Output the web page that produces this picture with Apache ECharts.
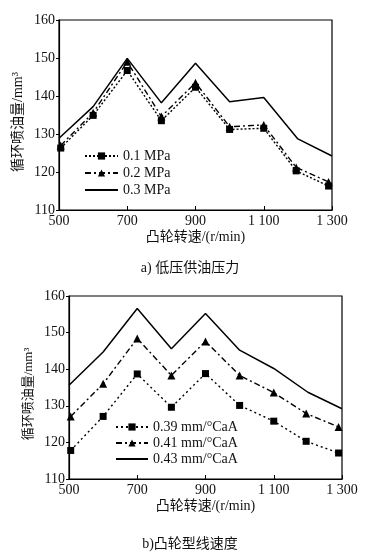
<!DOCTYPE html>
<html>
<head>
<meta charset="utf-8">
<style>
  html, body { margin: 0; padding: 0; background: #fff; }
  #chart { width: 370px; height: 553px; }
</style>
<script src="https://cdn.jsdelivr.net/npm/echarts@6/dist/echarts.min.js"></script>
</head>
<body>
<div id="chart"></div>
<script>
// ---------- data ----------
const speedLine   = [500, 600, 700, 800, 900, 1000, 1100, 1200, 1300];
const speedMarked = [505, 600, 700, 800, 900, 1000, 1100, 1195, 1290];

// a) 低压供油压力
const namesA = ['0.1 MPa', '0.2 MPa', '0.3 MPa'];
const p01 = [126.3, 134.9, 146.7, 133.5, 142.3, 131.2, 131.5, 120.3, 116.3];
const p02 = [127.0, 135.6, 149.0, 134.6, 143.5, 131.9, 132.4, 121.2, 117.4];
const p03 = [128.9, 137.2, 149.9, 138.2, 148.6, 138.5, 139.6, 128.7, 124.2];

// b) 凸轮型线速度
const namesB = ['0.39 mm/°CaA', '0.41 mm/°CaA', '0.43 mm/°CaA'];
const v039 = [117.8, 127.1, 138.7, 129.6, 138.8, 130.1, 125.8, 120.3, 117.1];
const v041 = [127.1, 136.0, 148.4, 138.3, 147.6, 138.3, 133.6, 127.9, 124.2];
const v043 = [135.6, 144.7, 156.6, 145.6, 155.2, 145.2, 140.2, 133.7, 129.2];

const yTicks = { min: 110, max: 160, interval: 10 };
const xTicks = { min: 500, max: 1300, interval: 200 };
const xTickLabels = { 500: '500', 700: '700', 900: '900', 1100: '1 100', 1300: '1 300' };

const yName = '循环喷油量/mm³';
const xName = '凸轮转速/(r/min)';
const captionA = 'a) 低压供油压力';
const captionB = 'b)凸轮型线速度';

// ---------- chart ----------
const SERIF = "'Liberation Serif', 'Times New Roman', 'Noto Sans CJK SC', serif";
const pairs = (xs, ys) => ys.map((v, i) => [xs[i], v]);

function xAxis(gridIndex) {
  return {
    type: 'value', gridIndex,
    min: xTicks.min, max: xTicks.max, interval: xTicks.interval,
    name: xName, nameLocation: 'middle', nameGap: 20, nameMoveOverlap: false,
    nameTextStyle: { fontFamily: SERIF, fontSize: 14, color: '#111' },
    axisLine: { lineStyle: { color: '#000', width: 1.2 } },
    axisTick: { inside: true, length: 4, lineStyle: { color: '#000' } },
    axisLabel: { fontFamily: SERIF, fontSize: 14, color: '#111', margin: 4,
                 formatter: v => xTickLabels[v] || '' },
    splitLine: { show: false }
  };
}
function yAxis(gridIndex, gap, fs, shift) {
  return {
    type: 'value', gridIndex,
    min: yTicks.min, max: yTicks.max, interval: yTicks.interval,
    name: yName, nameLocation: 'middle', nameRotate: 90, nameGap: gap, nameMoveOverlap: false,
    nameTextStyle: { fontFamily: SERIF, fontSize: fs, color: '#111', padding: [0, shift, 0, 0] },
    axisLine: { lineStyle: { color: '#000', width: 1.2 } },
    axisTick: { inside: false, length: 3, lineStyle: { color: '#000' } },
    axisLabel: { fontFamily: SERIF, fontSize: 14, color: '#111', margin: 4 },
    splitLine: { show: false }
  };
}
function lineSeries(name, idx, xs, ys, dash, symbol) {
  return {
    name, type: 'line', xAxisIndex: idx, yAxisIndex: idx,
    data: pairs(xs, ys),
    symbol: symbol || 'none', symbolSize: symbol === 'triangle' ? 8 : 7,
    showSymbol: !!symbol,
    itemStyle: { color: '#000' },
    lineStyle: { color: '#000', width: symbol ? 1.4 : 1.5, type: dash },
    animation: false, z: symbol ? 3 : 2
  };
}
const legendItems = names => names.map((n, i) =>
  i === 2 ? { name: n, itemStyle: { color: 'transparent', borderColor: 'transparent' } } : { name: n });

const chart = echarts.init(document.getElementById('chart'), null, { renderer: 'canvas' });
chart.setOption({
  animation: false,
  backgroundColor: '#fff',
  title: [
    { text: captionA, left: 185, top: 256, textAlign: 'center',
      textStyle: { fontFamily: SERIF, fontSize: 14, fontWeight: 'normal', color: '#111' } },
    { text: captionB, left: 185, top: 532, textAlign: 'center',
      textStyle: { fontFamily: SERIF, fontSize: 14, fontWeight: 'normal', color: '#111' } }
  ],
  grid: [
    { left: 59, top: 20, width: 273, height: 190, show: true, borderColor: '#000', borderWidth: 1.2, backgroundColor: 'transparent' },
    { left: 69, top: 296, width: 273, height: 183, show: true, borderColor: '#000', borderWidth: 1.2, backgroundColor: 'transparent' }
  ],
  xAxis: [xAxis(0), xAxis(1)],
  yAxis: [yAxis(0, 34, 14, 14), yAxis(1, 34, 13, 13)],
  legend: [
    { data: legendItems(namesA), orient: 'vertical', left: 84, top: 149, padding: 0,
      itemWidth: 33, itemHeight: 9, itemGap: 3,
      textStyle: { fontFamily: SERIF, fontSize: 14, color: '#111' } },
    { data: legendItems(namesB), orient: 'vertical', left: 115, top: 420, padding: 0,
      itemWidth: 32, itemHeight: 9, itemGap: 2,
      textStyle: { fontFamily: SERIF, fontSize: 14, color: '#111' } }
  ],
  series: [
    lineSeries(namesA[0], 0, speedMarked, p01, [2, 2], 'rect'),
    lineSeries(namesA[1], 0, speedMarked, p02, [6, 3, 2, 3], 'triangle'),
    lineSeries(namesA[2], 0, speedLine, p03, 'solid', null),
    lineSeries(namesB[0], 1, speedMarked, v039, [2, 3], 'rect'),
    lineSeries(namesB[1], 1, speedMarked, v041, [6, 3, 2, 3], 'triangle'),
    lineSeries(namesB[2], 1, speedLine, v043, 'solid', null)
  ]
});
</script>
</body>
</html>
